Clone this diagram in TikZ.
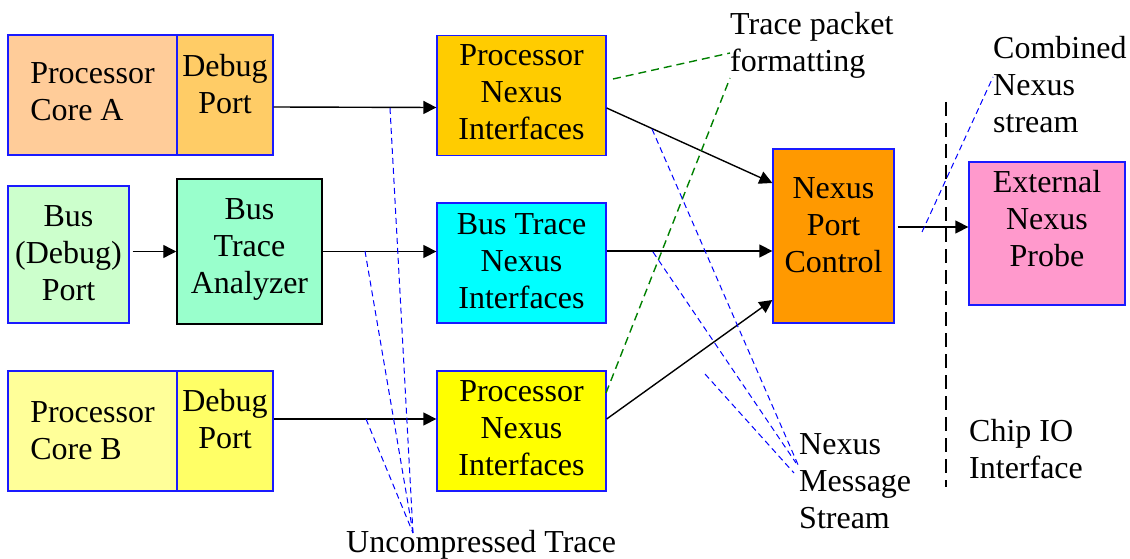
\documentclass[tikz,border=0pt]{standalone}
\usepackage{fontspec}
\setmainfont{Liberation Serif}
\usetikzlibrary{arrows.meta}
\definecolor{peach}{HTML}{FFCC99}
\definecolor{apricot}{HTML}{FFCC66}
\definecolor{gold}{HTML}{FFCC00}
\definecolor{mint}{HTML}{CCFFCC}
\definecolor{seafoam}{HTML}{99FFCC}
\definecolor{aqua}{HTML}{00FFFF}
\definecolor{tangerine}{HTML}{FF9900}
\definecolor{rose}{HTML}{FF99CC}
\definecolor{cream}{HTML}{FFFF99}
\definecolor{lemon}{HTML}{FFFF66}
\definecolor{canary}{HTML}{FFFF00}
\definecolor{rim}{HTML}{1A1AFF}
\definecolor{leaf}{HTML}{008000}
\tikzset{
  >={Triangle[length=13pt,width=13pt]},
  box/.style={draw=rim,fill=#1,line width=1.3pt,inner sep=0pt,align=center,
    minimum width=169pt,minimum height=120pt,font=\fontsize{32}{37}\selectfont},
  box/.default=gold,
  lift/.style={text depth=#1},
  flow/.style={->,line width=1.4pt,draw=black},
  lead/.style={draw=#1,line width=1pt,dash pattern=on 6pt off 4pt},
  lead/.default=blue,
  note/.style={anchor=base west,align=left,inner sep=0pt,font=\fontsize{32}{37}\selectfont},
}

\begin{document}
\begin{tikzpicture}[x=1pt,y=-1pt]
  \useasboundingbox (0,0) rectangle (1130,559);
  % boxes
  \node[box=peach,align=left,lift=7pt] (coreA) at (92.5,95) {Processor\\Core A};
  \node[box=apricot,minimum width=96pt,lift=22.7pt] (dbgA) at (225,95) {Debug\\Port};
  \node[box=gold,lift=6pt] (pniA) at (521.5,95.5) {Processor\\Nexus\\Interfaces};
  \node[box=mint,minimum width=121pt,minimum height=137pt,lift=3pt] (busport) at (68.5,254.5) {Bus\\(Debug)\\Port};
  \node[box=seafoam,draw=black,line width=1.5pt,minimum width=145pt,minimum height=145pt,lift=10.7pt] (bta) at (249.5,251.5) {Bus\\Trace\\Analyzer};
  \node[box=aqua,lift=4pt] (btni) at (521.5,263) {Bus Trace\\Nexus\\Interfaces};
  \node[box=tangerine,minimum width=121pt,minimum height=174pt,lift=22pt] (npc) at (833.5,236) {Nexus\\Port\\Control};
  \node[box=rose,minimum width=156pt,minimum height=143pt,lift=30pt] (probe) at (1047,233.5) {External\\Nexus\\Probe};
  \node[box=cream,align=left] (coreB) at (92.5,431) {Processor\\Core B};
  \node[box=lemon,minimum width=96pt,lift=24.7pt] (dbgB) at (225,431) {Debug\\Port};
  \node[box=canary,lift=6pt] (pniB) at (521.5,431) {Processor\\Nexus\\Interfaces};

  % data flow
  \draw[flow] ([yshift=-12pt]dbgA.east) -- ([yshift=-12pt]pniA.west);
  \draw[flow,shorten <=3pt] (busport.east |- bta.west) -- (bta.west);
  \draw[flow] (bta.east) -- (bta.east -| btni.west);
  \draw[flow] ([yshift=12pt]dbgB.east) -- ([yshift=12pt]pniB.west);
  \draw[flow] ([yshift=-12.5pt]pniA.east) -- ([yshift=53pt]npc.west);
  \draw[flow] ([yshift=12pt]btni.east) -- ([yshift=-15pt]npc.west);
  \draw[flow] ([yshift=12pt]pniB.east) -- ([yshift=-64pt]npc.west);
  \draw[flow,shorten <=3pt] ([yshift=9pt]npc.east) -- ([yshift=6.5pt]probe.west);

  % chip boundary
  \coordinate (ioTop) at (945.5,102);
  \coordinate (ioBot) at (945.5,487);
  \draw[line width=2pt,dash pattern=on 14pt off 7pt] (ioTop) -- (ioBot);

  % callouts (base = last line)
  \node[note] (fmt) at (730,72) {Trace packet\\formatting};
  \node[note] (comb) at (993,133) {Combined\\Nexus\\stream};
  \node[note] (nms) at (799,528) {Nexus\\Message\\Stream};
  \node[note] (chip) at (969,478) {Chip IO\\Interface};
  \node[note] (raw) at (346,552) {Uncompressed Trace};

  \coordinate (fmtA) at (730,53);
  \coordinate (fmtB) at (730,78);
  \coordinate (gA) at (613,79);
  \coordinate (gB) at (606,393);
  \draw[lead=leaf,line width=1.4pt,dash pattern=on 8pt off 5pt] (gA) -- (fmtA);
  \draw[lead=leaf,line width=1.4pt,dash pattern=on 8pt off 5pt] (gB) -- (fmtB);

  \coordinate (rawTip) at (413,533);
  \coordinate (rA) at (390,108);
  \coordinate (rB) at (365,251);
  \coordinate (rC) at (366,419);
  \foreach \s in {rA,rB,rC} \draw[lead] (\s) -- (rawTip);

  \coordinate (mA) at (652,129);
  \coordinate (mB) at (653,252);
  \coordinate (mC) at (705,374);
  \coordinate (nA) at (799,467);
  \coordinate (nB) at (796,463);
  \coordinate (nC) at (794,473);
  \draw[lead] (mA) -- (nA);
  \draw[lead] (mB) -- (nB);
  \draw[lead] (mC) -- (nC);

  \coordinate (cA) at (922,232);
  \coordinate (cB) at (993,77);
  \draw[lead] (cA) -- (cB);
\end{tikzpicture}
\end{document}
